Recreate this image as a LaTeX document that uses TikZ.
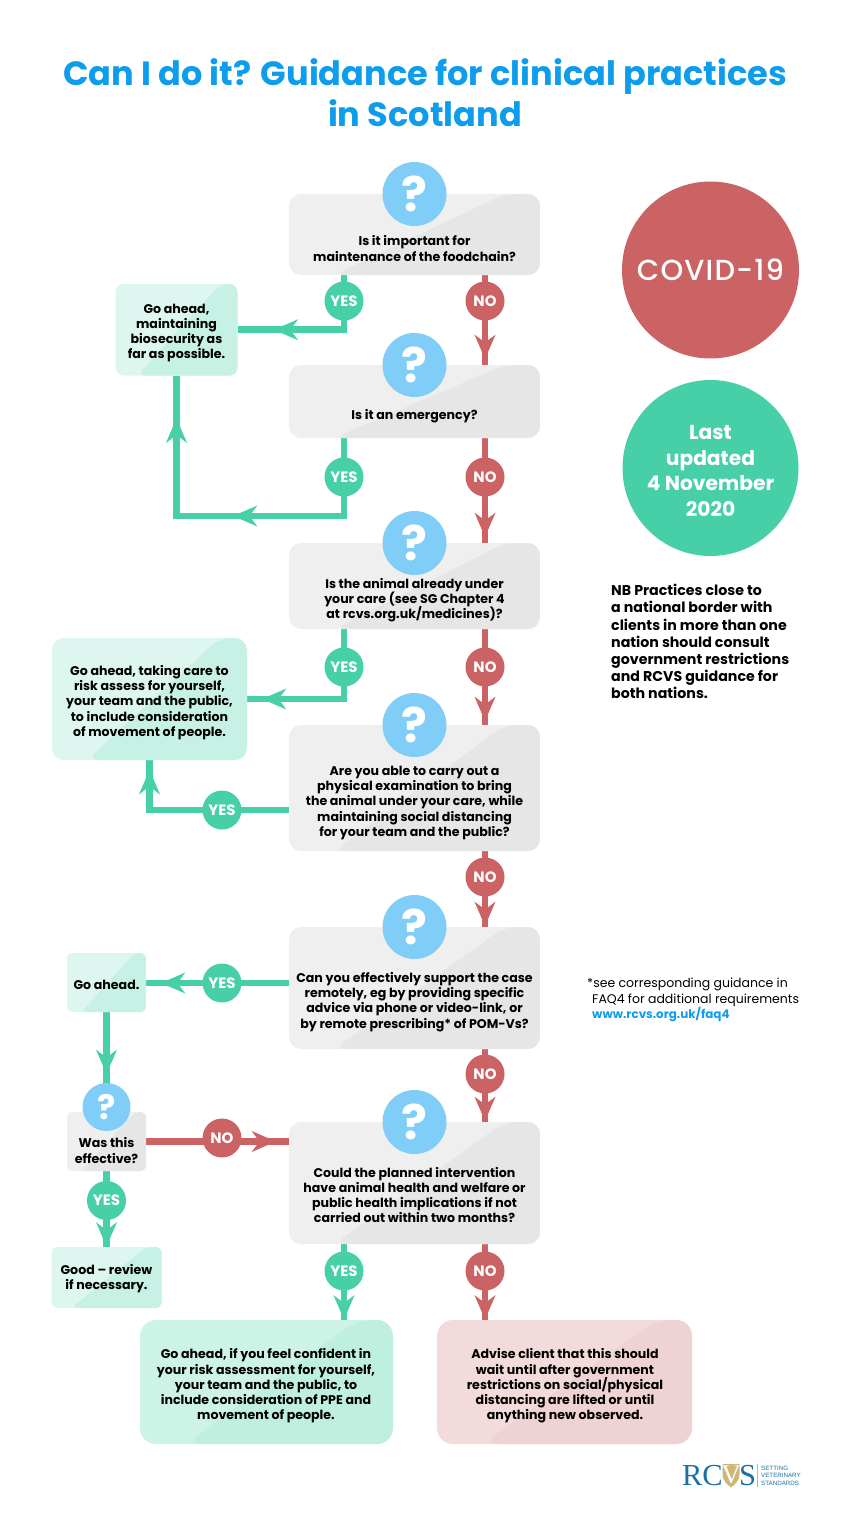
\documentclass[tikz,border=0pt]{standalone}
\usepackage{fontspec}
\setmainfont{Poppins}
\newfontfamily\logofont{Liberation Serif}
\newfontfamily\logosans{Liberation Sans}
\newfontfamily\covidfont[LetterSpace=4]{Poppins Medium}
\usetikzlibrary{arrows.meta,calc,decorations.markings,backgrounds}
\newcommand{\fs}[2]{\fontsize{#1}{#2}\selectfont\lineskiplimit=-10pt\relax}
\definecolor{titleblue}{HTML}{0E9DEC}
\definecolor{askblue}{HTML}{80CDF8}
\definecolor{yesgreen}{HTML}{47CFA8}
\definecolor{nored}{HTML}{CB6264}
\definecolor{greyA}{HTML}{EFEFEF}
\definecolor{greyB}{HTML}{E6E6E6}
\definecolor{mintA}{HTML}{DDF6EF}
\definecolor{mintB}{HTML}{C8F1E5}
\definecolor{bigmintA}{HTML}{CDF3E7}
\definecolor{bigmintB}{HTML}{BEEFDF}
\definecolor{pinkA}{HTML}{F3DADB}
\definecolor{pinkB}{HTML}{EFD2D4}
\definecolor{logoblue}{HTML}{1A6FA8}
\definecolor{logogold}{HTML}{CDB676}
\tikzset{
  tone/.style 2 args={fill=#1, path picture={
    \fill[#2] ($(path picture bounding box.south west)!0.18!(path picture bounding box.south east)$)
      -- ($(path picture bounding box.north west)!0.86!(path picture bounding box.north east)$)
      -- (path picture bounding box.north east) -- (path picture bounding box.south east) -- cycle;}},
  sized/.style 2 args={minimum width=#1, minimum height=#2, inner sep=0pt, outer sep=0pt},
  qbox/.style={tone={greyA}{greyB}, rounded corners=12pt},
  gobox/.style={tone={mintA}{mintB}, rounded corners=8pt},
  words/.style={align=center, inner sep=0pt, font=\fs{12.6}{15.3}\bfseries, text=black},
  askdot/.style={circle, fill=askblue, minimum size=64pt, inner sep=0pt, text=white, font=\fs{48}{48}\bfseries},
  yesdot/.style={circle, fill=yesgreen, minimum size=39pt, inner sep=0pt, text=white, font=\fs{15}{15}\bfseries},
  nodot/.style={yesdot, fill=nored},
  yesline/.style={draw=yesgreen, line width=6.7pt},
  noline/.style={draw=nored, line width=6.7pt},
  tipat/.style={postaction={decorate, decoration={markings, mark=at position #1 with
    {\arrow{Stealth[length=24pt, width=20.5pt, inset=7.5pt]}}}}},
}
\begin{document}
\begin{tikzpicture}[x=1pt, y=-1pt]
  \useasboundingbox (0,0) rectangle (850,1538);

  % title
  \node[text=titleblue, align=center, inner sep=0pt, font=\fs{33.6}{41}\bfseries] (title) at (425,92.5)
      {Can I do it? Guidance for clinical practices\\in Scotland};

  % ---- question boxes ----
  \node[qbox, sized={251pt}{81pt}]  (q1) at (414.5,234.5) {};
  \node[qbox, sized={251pt}{73pt}]  (q2) at (414.5,401.5) {};
  \node[qbox, sized={251pt}{86pt}]  (q3) at (414.5,586) {};
  \node[qbox, sized={251pt}{126pt}] (q4) at (414.5,788) {};
  \node[qbox, sized={251pt}{122pt}] (q5) at (414.5,988) {};
  \node[qbox, sized={251pt}{122pt}] (q6) at (414.5,1183) {};
  \node[qbox, sized={79pt}{59pt}, rounded corners=5pt] (q7) at (106.5,1141.5) {};

  \node[words] (q1text) at (414.5,248.5) {Is it important for\\maintenance of the foodchain?};
  \node[words] (q2text) at (414.5,416) {Is it an emergency?};
  \node[words] (q3text) at (414.5,600) {Is the animal already under\\your care (see SG Chapter 4\\at rcvs.org.uk/medicines)?};
  \node[words] (q4text) at (414.5,803) {Are you able to carry out a\\physical examination to bring\\the animal under your care, while\\maintaining social distancing\\for your team and the public?};
  \node[words] (q5text) at (414.5,1002) {Can you effectively support the case\\remotely, eg by providing specific\\advice via phone or video-link, or\\by remote prescribing* of POM-Vs?};
  \node[words] (q6text) at (414.5,1195) {Could the planned intervention\\have animal health and welfare or\\public health implications if not\\carried out within two months?};
  \node[words] (q7text) at (106.5,1150.5) {Was this\\effective?};

  % ---- outcome boxes ----
  \node[gobox, sized={122pt}{91.5pt}] (go1) at (176.5,329.75) {};
  \node[gobox, sized={195pt}{122pt}, rounded corners=12pt] (go2) at (149.5,699) {};
  \node[gobox, sized={79pt}{59pt}, rounded corners=5pt] (go3) at (106.5,982.5) {};
  \node[gobox, sized={110pt}{61pt}, rounded corners=6pt] (good) at (106.5,1277.5) {};
  \node[tone={bigmintA}{bigmintB}, rounded corners=16pt, sized={253pt}{124pt}] (bigyes) at (266.5,1382) {};
  \node[tone={pinkA}{pinkB}, rounded corners=16pt, sized={255pt}{124pt}] (bigno) at (564.5,1382) {};

  \node[words] (go1text) at (176.5,333) {Go ahead,\\maintaining\\biosecurity as\\far as possible.};
  \node[words] (go2text) at (149.5,702.5) {Go ahead, taking care to\\risk assess for yourself,\\your team and the public,\\to include consideration\\of movement of people.};
  \node[words] (go3text) at (106.5,984.5) {Go ahead.};
  \node[words] (goodtext) at (106.5,1278.5) {Good -- review\\if necessary.};
  \node[words] (bigyestext) at (266,1386) {Go ahead, if you feel confident in\\your risk assessment for yourself,\\your team and the public, to\\include consideration of PPE and\\movement of people.};
  \node[words] (bignotext) at (565,1386) {Advise client that this should\\wait until after government\\restrictions on social/physical\\distancing are lifted or until\\anything new observed.};

  % question marks sit on the top edge of each box
  \foreach \q in {q1,q2,q3,q4,q5,q6} {
    \node[askdot] (ask\q) at (\q.north) {?};
  }
  \node[askdot, minimum size=48pt, font=\fs{34}{34}\bfseries] (askq7) at (106.5,1107) {?};

  % ---- yes / no dots ----
  \foreach \name/\x/\y in {yes1/344/301, yes2/344/477, yes3/344/667, yes4/222/810,
                           yes5/222/983, yes6/106.5/1200.5, yes7/344/1271} {
    \node[yesdot] (\name) at (\x,\y) {YES};
  }
  \foreach \name/\x/\y in {no1/485/301, no2/485/477, no3/485/667, no4/485/877,
                           no5/485/1074, no6/222/1138, no7/485/1271} {
    \node[nodot] (\name) at (\x,\y) {NO};
  }

  % ---- connectors, under the dots ----
  \begin{scope}[on background layer]
    \coordinate (turn2) at (176.5,516);
    \draw[yesline, tipat=125pt] (q1.south -| yes1) -- (yes1.center) |- (go1.east);
    \draw[yesline, tipat=189pt, tipat=343pt] (q2.south -| yes2) -- (yes2.center) |- (turn2) -- (go1.south);
    \draw[yesline, tipat=152pt] (q3.south -| yes3) -- (yes3.center) |- (go2.east);
    \draw[yesline, tipat=179.5pt] (q4.west |- yes4) -- (yes4.center) -| (go2.south);
    \draw[yesline, tipat=128pt] (q5.west |- yes5) -- (go3.east |- yes5);
    \draw[yesline, tipat=62pt]  (go3.south) -- (q7.north);
    \draw[yesline, tipat=75.5pt]  (q7.south) -- (good.north);
    \draw[yesline, tipat=75.5pt]  (q6.south -| yes7) -- (bigyes.north -| yes7);

    \draw[noline, tipat=84pt] (q1.south -| no1) -- (q2.north -| no1);
    \draw[noline, tipat=99pt] (q2.south -| no2) -- (q3.north -| no2);
    \draw[noline, tipat=92pt] (q3.south -| no3) -- (q4.north -| no3);
    \draw[noline, tipat=75pt] (q4.south -| no4) -- (q5.north -| no4);
    \draw[noline, tipat=72pt] (q5.south -| no5) -- (q6.north -| no5);
    \draw[noline, tipat=130pt] (q7.east) -- (q7.east -| q6.west);
    \draw[noline, tipat=75.5pt] (q6.south -| no7) -- (bigno.north -| no7);
  \end{scope}

  % ---- right column ----
  \node[circle, fill=nored, minimum size=177pt, inner sep=0pt, text=white, font=\covidfont\fs{29}{29}] (covid) at (710.5,270) {COVID-19};
  \node[circle, fill=yesgreen, minimum size=176pt, inner sep=0pt] (updated) at (710.5,468) {};
  \node[text=white, align=center, inner sep=0pt, font=\fs{20.2}{25.5}\bfseries] (updatedtext) at (710.5,471)
      {Last\\updated\\4 November\\2020};
  \node[anchor=west, align=left, inner sep=0pt, font=\fs{14.2}{17.1}\bfseries] (border) at (611,641.5)
      {NB Practices close to\\a national border with\\clients in more than one\\nation should consult\\government restrictions\\and RCVS guidance for\\both nations.};
  \node[anchor=west, align=left, inner sep=0pt, font=\fs{12.5}{15.3}] (faq) at (587,1000)
      {*see corresponding guidance in\\\hspace*{5pt}FAQ4 for additional requirements\\\hspace*{5pt}\textcolor{titleblue}{\fs{11.9}{15.3}\bfseries www.rcvs.org.uk/faq4}};

  % ---- logo ----
  \fill[logogold] (722.5,1464) -- (739.5,1464) -- (739.5,1474) .. controls (739.5,1481) and (735,1484) .. (731,1487.5)
      .. controls (727,1484) and (722.5,1481) .. (722.5,1474) -- cycle;
  \node[inner sep=0pt, anchor=east, text=logoblue, font=\logofont\fs{30.5}{32}] (rc) at (723,1475.5) {RC};
  \node[inner sep=0pt, text=white, font=\logofont\fs{27}{27}] (vee) at (731,1474.5) {V};
  \node[inner sep=0pt, anchor=west, text=logoblue, font=\logofont\fs{30.5}{32}] (ess) at (739,1475.5) {S};
  \node[minimum width=0.8pt, minimum height=23pt, inner sep=0pt, fill=logogold] (bar) at (757.5,1475.5) {};
  \node[anchor=west, align=left, inner sep=0pt, text=logoblue, font=\logosans\fs{6.2}{7.5}] (logotext) at (761,1475.5)
      {SETTING\\VETERINARY\\STANDARDS};

\end{tikzpicture}
\end{document}
